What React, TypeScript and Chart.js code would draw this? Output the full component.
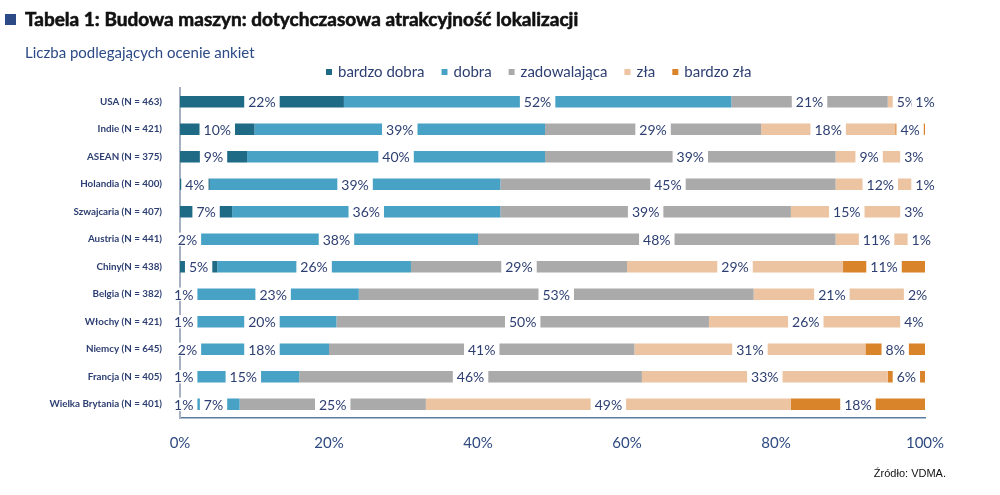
import React, { useEffect, useRef } from 'react';
import { Chart, registerables } from 'chart.js';

Chart.register(...registerables);

// Countries with the number of evaluated surveys
const countries = [
  'USA (N = 463)',
  'Indie (N = 421)',
  'ASEAN (N = 375)',
  'Holandia (N = 400)',
  'Szwajcaria (N = 407)',
  'Austria (N = 441)',
  'Chiny(N = 438)',
  'Belgia (N = 382)',
  'Włochy (N = 421)',
  'Niemcy (N = 645)',
  'Francja (N = 405)',
  'Wielka Brytania (N = 401)',
];

const ratingNames = ['bardzo dobra', 'dobra', 'zadowalająca', 'zła', 'bardzo zła'];

// Share of answers per rating, in percent
const bardzoDobra = [22, 10, 9, 4, 7, 2, 5, 1, 1, 2, 1, 1];
const dobra = [52, 39, 40, 39, 36, 38, 26, 23, 20, 18, 15, 7];
const zadowalajaca = [21, 29, 39, 45, 39, 48, 29, 53, 50, 41, 46, 25];
const zla = [5, 18, 9, 12, 15, 11, 29, 21, 26, 31, 33, 49];
const bardzoZla = [1, 4, 3, 1, 3, 1, 11, 2, 4, 8, 6, 18];

const xTicks = [0, 20, 40, 60, 80, 100];

const ratingColors = ['#1f6a84', '#47a2c5', '#aaaaaa', '#ecc4a1', '#d9832b'];

const FONT = 'Lato';
const NAVY = '#2d3f72';

const titleText = 'Tabela 1: Budowa maszyn: dotychczasowa atrakcyjność lokalizacji';
const subtitleText = 'Liczba podlegających ocenie ankiet';
const sourceText = 'Źródło: VDMA.';

const decorPlugin = {
  id: 'decor',
  beforeDraw(chart: any) {
    const { ctx, width, height } = chart;
    ctx.save();
    ctx.fillStyle = '#ffffff';
    ctx.fillRect(0, 0, width, height);
    ctx.restore();
  },
  afterDatasetsDraw(chart: any) {
    const { ctx } = chart;
    const area = chart.chartArea;
    ctx.save();
    ctx.font = `14px ${FONT}`;
    ctx.textBaseline = 'middle';
    ctx.textAlign = 'center';
    chart.data.datasets.forEach((ds: any, di: number) => {
      const meta = chart.getDatasetMeta(di);
      meta.data.forEach((el: any, i: number) => {
        const v = ds.data[i];
        const text = `${v}%`;
        const x0 = Math.max(Math.min(el.base, el.x), area.left);
        const x1 = Math.min(Math.max(el.base, el.x), area.right);
        const cx = (x0 + x1) / 2;
        const w = ctx.measureText(text).width + 8;
        const h = el.height + 2;
        ctx.fillStyle = '#ffffff';
        ctx.fillRect(cx - w / 2, el.y - h / 2, w, h);
        ctx.fillStyle = NAVY;
        ctx.fillText(text, cx, el.y + 1);
      });
    });
    ctx.restore();
  },
  afterDraw(chart: any) {
    const { ctx } = chart;
    ctx.save();
    // heading marker
    ctx.fillStyle = '#2c4a86';
    ctx.fillRect(5, 14, 11, 11);
    ctx.textBaseline = 'middle';
    ctx.textAlign = 'left';
    ctx.fillStyle = '#111111';
    ctx.strokeStyle = '#111111';
    ctx.lineWidth = 0.6;
    ctx.font = `bold 19px ${FONT}`;
    ctx.fillText(titleText, 25, 20);
    ctx.strokeText(titleText, 25, 20);
    ctx.fillStyle = '#2c4a86';
    ctx.font = `15px ${FONT}`;
    ctx.fillText(subtitleText, 25, 53);

    // legend
    ctx.font = `15px ${FONT}`;
    let x = 326;
    chart.data.datasets.forEach((ds: any) => {
      ctx.fillStyle = ds.backgroundColor;
      ctx.fillRect(x, 69, 6, 6);
      x += 12;
      ctx.fillStyle = NAVY;
      ctx.fillText(ds.label, x, 72);
      x += ctx.measureText(ds.label).width + 17;
    });

    // source note
    ctx.fillStyle = '#111111';
    ctx.font = `11px "Liberation Sans Narrow", "Liberation Sans", sans-serif`;
    ctx.textAlign = 'right';
    ctx.fillText(sourceText, 946, 474);
    ctx.restore();
  },
};

export default function App() {
  const canvasRef = useRef<HTMLCanvasElement>(null);

  useEffect(() => {
    document.body.style.margin = '0';
    const canvas = canvasRef.current;
    if (!canvas) return;
    const series = [bardzoDobra, dobra, zadowalajaca, zla, bardzoZla];
    const chart = new Chart(canvas, {
      type: 'bar',
      data: {
        labels: countries,
        datasets: series.map((data, i) => ({
          label: ratingNames[i],
          data,
          backgroundColor: ratingColors[i],
          borderWidth: 0,
          categoryPercentage: 1,
          barPercentage: 0.41,
        })),
      },
      options: {
        indexAxis: 'y',
        animation: false,
        responsive: false,
        devicePixelRatio: 1,
        layout: { padding: { top: 88, right: 75, bottom: 0, left: 0 } },
        plugins: {
          legend: { display: false },
          title: { display: false },
          tooltip: { enabled: false },
        },
        scales: {
          x: {
            stacked: true,
            min: 0,
            max: 100,
            afterBuildTicks: (axis: any) => {
              axis.ticks = xTicks.map((v) => ({ value: v }));
            },
            afterFit: (scale: any) => {
              scale.height = 77;
            },
            grid: { display: false },
            border: { display: true, color: '#5b7ca2', width: 1.5 },
            ticks: {
              padding: 8,
              color: '#2e4a80',
              font: { family: FONT, size: 15 },
              callback: (v: any) => `${v}%`,
            },
          },
          y: {
            stacked: true,
            afterFit: (scale: any) => {
              scale.width = 180;
            },
            grid: { display: false },
            border: { display: true, color: '#a6b2c1', width: 2 },
            ticks: {
              padding: 10,
              color: '#2d3f72',
              font: { family: FONT, size: 9.8, weight: 'bold' },
            },
          },
        },
      },
      plugins: [decorPlugin],
    });
    let alive = true;
    document.fonts
      .load(`bold 19px ${FONT}`)
      .then(() => document.fonts.load(`15px ${FONT}`))
      .then(() => {
        if (alive) chart.update();
      })
      .catch(() => {});
    return () => {
      alive = false;
      chart.destroy();
    };
  }, []);

  return (
    <div style={{ width: 1000, height: 495 }}>
      <canvas ref={canvasRef} width={1000} height={495} />
    </div>
  );
}
